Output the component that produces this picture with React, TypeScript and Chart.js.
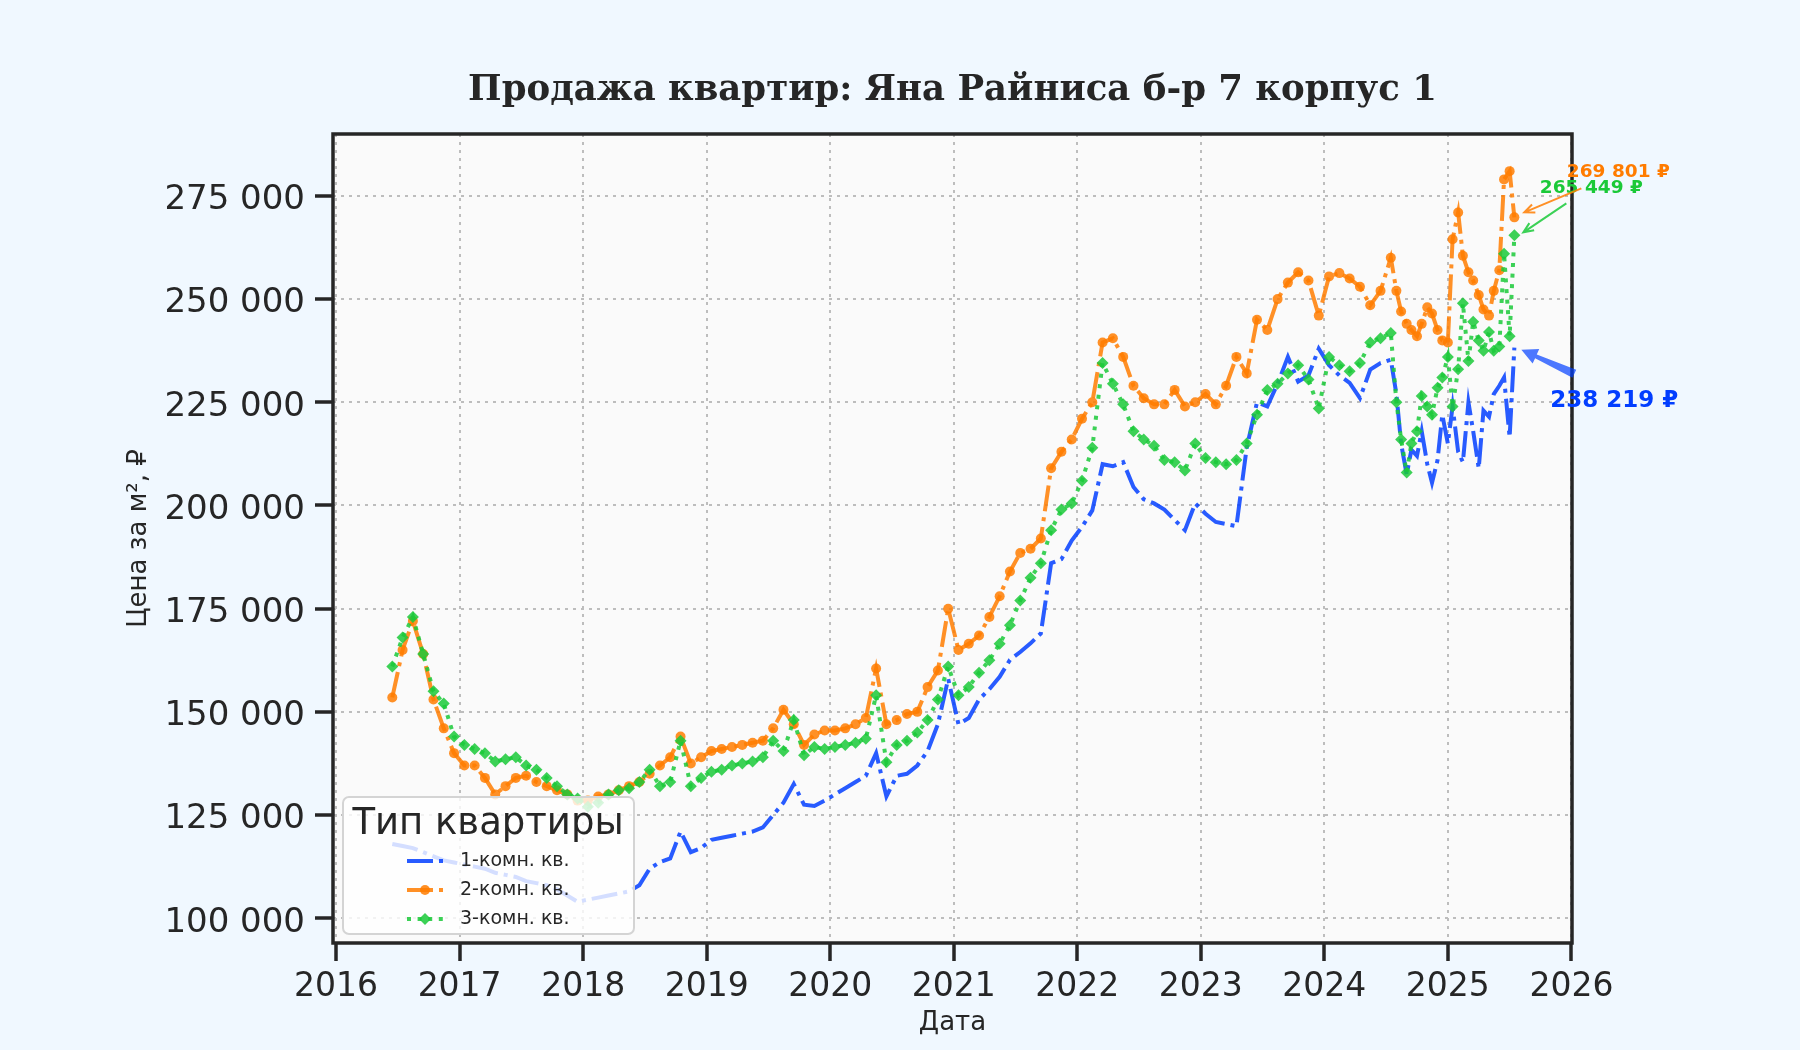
import { useEffect, useRef } from 'react';
import { Chart, registerables, Plugin } from 'chart.js';

Chart.register(...registerables);

// даты наблюдений: помесячно до июля 2024, дальше два раза в месяц
const dates = [
  '2016-06-15', '2016-07-15', '2016-08-15', '2016-09-15', '2016-10-15', '2016-11-15', '2016-12-15',
  '2017-01-15', '2017-02-15', '2017-03-15', '2017-04-15', '2017-05-15', '2017-06-15',
  '2017-07-15', '2017-08-15', '2017-09-15', '2017-10-15', '2017-11-15', '2017-12-15',
  '2018-01-15', '2018-02-15', '2018-03-15', '2018-04-15', '2018-05-15', '2018-06-15',
  '2018-07-15', '2018-08-15', '2018-09-15', '2018-10-15', '2018-11-15', '2018-12-15',
  '2019-01-15', '2019-02-15', '2019-03-15', '2019-04-15', '2019-05-15', '2019-06-15',
  '2019-07-15', '2019-08-15', '2019-09-15', '2019-10-15', '2019-11-15', '2019-12-15',
  '2020-01-15', '2020-02-15', '2020-03-15', '2020-04-15', '2020-05-15', '2020-06-15',
  '2020-07-15', '2020-08-15', '2020-09-15', '2020-10-15', '2020-11-15', '2020-12-15',
  '2021-01-15', '2021-02-15', '2021-03-15', '2021-04-15', '2021-05-15', '2021-06-15',
  '2021-07-15', '2021-08-15', '2021-09-15', '2021-10-15', '2021-11-15', '2021-12-15',
  '2022-01-15', '2022-02-15', '2022-03-15', '2022-04-15', '2022-05-15', '2022-06-15',
  '2022-07-15', '2022-08-15', '2022-09-15', '2022-10-15', '2022-11-15', '2022-12-15',
  '2023-01-15', '2023-02-15', '2023-03-15', '2023-04-15', '2023-05-15', '2023-06-15',
  '2023-07-15', '2023-08-15', '2023-09-15', '2023-10-15', '2023-11-15', '2023-12-15',
  '2024-01-15', '2024-02-15', '2024-03-15', '2024-04-15', '2024-05-15', '2024-06-15', '2024-07-15',
  '2024-08-01', '2024-08-15', '2024-09-01', '2024-09-15', '2024-10-01', '2024-10-15',
  '2024-11-01', '2024-11-15', '2024-12-01', '2024-12-15', '2025-01-01', '2025-01-15',
  '2025-02-01', '2025-02-15', '2025-03-01', '2025-03-15', '2025-04-01', '2025-04-15',
  '2025-05-01', '2025-05-15', '2025-06-01', '2025-06-15', '2025-07-01', '2025-07-15',
];

const rooms1 = [
  118000, 117500, 117000, 116000, 115000, 114000, 113500,
  113000, 112500, 112000, 111000, 110500, 110000, 109000, 108500, 108000, 107000, 105500, 104000,
  104500, 105000, 105500, 106000, 106500, 108000, 112000, 113600, 114500, 121000, 116000, 117000,
  119000, 119500, 120000, 120500, 121000, 122000, 125000, 128000, 132500, 127500, 127200, 128500,
  130000, 131500, 133000, 134500, 140000, 129500, 134500, 135000, 137000, 140500, 147000, 158000,
  147000, 148500, 153000, 155500, 158500, 162600, 164500, 166600, 169000, 186000, 187000, 191500,
  194800, 198800, 210000, 209500, 210500, 204500, 201500, 200500, 199000, 196500, 194000, 200500,
  198000, 196000, 195500, 195000, 214000, 225000, 224000, 229500, 236000, 230000, 231500, 238000,
  234000, 231500, 229700, 226000, 232900, 234500, 235300,
  227000, 215000, 207500, 213500, 212000, 218000, 210000, 205500, 211000, 222000, 215000, 224000,
  213000, 210500, 225000, 218000, 209000, 223000, 221500, 227000, 229000, 231000, 216500, 238219,
];

const rooms2 = [
  153500, 165000, 172000, 164000, 153000, 146000, 140000,
  137000, 137000, 134000, 130000, 132000, 134000, 134500, 133000, 132000, 131000, 130000, 128500,
  128500, 129500, 130000, 131000, 132000, 133000, 135000, 137000, 139000, 144000, 137500, 139000,
  140500, 141000, 141500, 142000, 142500, 143000, 146000, 150500, 147000, 142000, 144500, 145500,
  145500, 146000, 147000, 148500, 160500, 147000, 148000, 149500, 150000, 156000, 160000, 175000,
  165000, 166500, 168500, 173000, 178000, 184000, 188500, 189500, 192000, 209000, 213000, 216000,
  221000, 225000, 239500, 240500, 236000, 229000, 226000, 224500, 224500, 228000, 224000, 225000,
  227000, 224500, 229000, 236000, 232000, 245000, 242500, 250000, 254000, 256500, 254500, 246000,
  255500, 256300, 255000, 253000, 248500, 252000, 260000,
  252000, 247000, 244000, 242500, 241000, 244000, 248000, 246500, 242500, 240000, 239500, 264500,
  271000, 260500, 256500, 254500, 251000, 247500, 246000, 252000, 257000, 279000, 281000, 269801,
];

const rooms3 = [
  161000, 168000, 173000, 164000, 155000, 152000, 144000,
  142000, 141000, 140000, 138000, 138500, 139000, 137000, 136000, 134000, 132000, 130000, 129000,
  127000, 128000, 130000, 131000, 131500, 133000, 136000, 132000, 133000, 143000, 132000, 134000,
  135500, 136000, 137000, 137500, 138000, 139000, 143000, 140500, 148000, 139500, 141500, 141000,
  141500, 142000, 142500, 143500, 154000, 137800, 142000, 143000, 145000, 148000, 153000, 161000,
  154000, 156000, 159500, 162500, 166500, 171000, 177000, 182500, 186000, 194000, 199000, 200500,
  206000, 214000, 234500, 229500, 224500, 218000, 216000, 214500, 211000, 210500, 208500, 215000,
  211500, 210500, 210000, 211000, 215000, 222000, 228000, 229500, 232000, 234000, 230500, 223500,
  236000, 234000, 232500, 234500, 239500, 240500, 241800,
  225000, 216000, 208000, 215000, 218000, 226500, 224000, 222000, 228500, 231000, 236000, 224000,
  233000, 249000, 235000, 244500, 240000, 237500, 242000, 237500, 238500, 261000, 241000, 265449,
];

const seriesNames = ['1-комн. кв.', '2-комн. кв.', '3-комн. кв.'];
const xTicks = [2016, 2017, 2018, 2019, 2020, 2021, 2022, 2023, 2024, 2025, 2026];
const yTicks = [100000, 125000, 150000, 175000, 200000, 225000, 250000, 275000];

const TITLE = 'Продажа квартир: Яна Райниса б-р 7 корпус 1';
const LEGEND_TITLE = 'Тип квартиры';

const INK = '#262626';
const solid = ['#023eff', '#ff7c00', '#1ac938'];
const faded = ['rgba(2,62,255,0.85)', 'rgba(255,124,0,0.85)', 'rgba(26,201,56,0.85)'];
const DASHDOT = [26, 6, 4, 6];
const DOTTED = [4, 6.6];
const dashes = [DASHDOT, DASHDOT, DOTTED];

const toYear = (d: string) => {
  const [y, m, day] = d.split('-').map(Number);
  return y + (m - 1) / 12 + (day - 1) / 365;
};
const fmt = (v: number) => String(v).replace(/\B(?=(\d{3})+(?!\d))/g, ' ');
const points = (vals: number[]) => vals.map((v, i) => ({ x: toYear(dates[i]), y: v }));

function drawMarker(ctx: CanvasRenderingContext2D, i: number, x: number, y: number) {
  ctx.fillStyle = faded[i];
  ctx.beginPath();
  if (i === 1) {
    ctx.arc(x, y, 5, 0, Math.PI * 2);
  } else if (i === 2) {
    ctx.moveTo(x, y - 6);
    ctx.lineTo(x + 6, y);
    ctx.lineTo(x, y + 6);
    ctx.lineTo(x - 6, y);
    ctx.closePath();
  }
  ctx.fill();
}

function simpleArrow(ctx: CanvasRenderingContext2D, x0: number, y0: number, x1: number, y1: number, color: string) {
  const ang = Math.atan2(y1 - y0, x1 - x0);
  ctx.strokeStyle = color;
  ctx.lineWidth = 2;
  ctx.setLineDash([]);
  ctx.beginPath();
  ctx.moveTo(x0, y0);
  ctx.lineTo(x1, y1);
  ctx.moveTo(x1 - 11 * Math.cos(ang - 0.4), y1 - 11 * Math.sin(ang - 0.4));
  ctx.lineTo(x1, y1);
  ctx.lineTo(x1 - 11 * Math.cos(ang + 0.4), y1 - 11 * Math.sin(ang + 0.4));
  ctx.stroke();
}

function fancyArrow(ctx: CanvasRenderingContext2D, x0: number, y0: number, x1: number, y1: number, color: string) {
  const len = Math.hypot(x1 - x0, y1 - y0);
  const ux = (x1 - x0) / len, uy = (y1 - y0) / len;
  const nx = -uy, ny = ux;
  const hl = 16, hw = 8;
  const bx = x1 - ux * hl, by = y1 - uy * hl;
  ctx.fillStyle = color;
  ctx.beginPath();
  ctx.moveTo(x0 + nx * 4.5, y0 + ny * 4.5);
  ctx.lineTo(bx + nx * 2, by + ny * 2);
  ctx.lineTo(bx + nx * hw, by + ny * hw);
  ctx.lineTo(x1, y1);
  ctx.lineTo(bx - nx * hw, by - ny * hw);
  ctx.lineTo(bx - nx * 2, by - ny * 2);
  ctx.lineTo(x0 - nx * 4.5, y0 - ny * 4.5);
  ctx.closePath();
  ctx.fill();
}

const decor: Plugin<'line'> = {
  id: 'decor',
  beforeDraw(chart) {
    const { ctx, chartArea: a } = chart;
    ctx.save();
    ctx.fillStyle = '#f0f8ff';
    ctx.fillRect(0, 0, chart.width, chart.height);
    ctx.fillStyle = '#fafafa';
    ctx.fillRect(a.left, a.top, a.right - a.left, a.bottom - a.top);
    ctx.restore();
  },
  afterDatasetsDraw(chart) {
    const { ctx, chartArea: a } = chart;
    ctx.save();

    // рамка
    ctx.strokeStyle = INK;
    ctx.lineWidth = 3.5;
    ctx.strokeRect(a.left, a.top, a.right - a.left, a.bottom - a.top);

    // легенда
    const lx = a.left + 10;
    const ly = a.bottom - 146;
    ctx.beginPath();
    ctx.roundRect(lx, ly, 291, 137, 6);
    ctx.fillStyle = 'rgba(255,255,255,0.8)';
    ctx.fill();
    ctx.strokeStyle = '#d4d4d4';
    ctx.lineWidth = 2;
    ctx.stroke();
    ctx.fillStyle = INK;
    ctx.textAlign = 'center';
    ctx.textBaseline = 'alphabetic';
    ctx.font = '37px "DejaVu Sans"';
    ctx.fillText(LEGEND_TITLE, lx + 145, ly + 37);
    ctx.font = '19px "DejaVu Sans"';
    ctx.textAlign = 'left';
    ctx.textBaseline = 'middle';
    seriesNames.forEach((name, i) => {
      const y = ly + 64 + i * 29;
      ctx.strokeStyle = faded[i];
      ctx.lineWidth = 4;
      ctx.setLineDash(dashes[i]);
      ctx.beginPath();
      ctx.moveTo(lx + 64, y);
      ctx.lineTo(lx + 101, y);
      ctx.stroke();
      ctx.setLineDash([]);
      drawMarker(ctx, i, lx + 82, y);
      ctx.fillStyle = INK;
      ctx.fillText(name, lx + 117, y);
    });

    // подписи последних значений
    const last = [rooms1, rooms2, rooms3].map((s) => s[s.length - 1]);
    const spots = [
      { dx: 100, dy: 53, tail: [60, 26], tip: [7, 2], size: 23 },
      { dx: 104, dy: -45, tail: [67, -29], tip: [10, -5], size: 18.5 },
      { dx: 77, dy: -47, tail: [52, -32], tip: [9, -3], size: 18.5 },
    ];
    ctx.textAlign = 'center';
    ctx.textBaseline = 'middle';
    [0, 2, 1].forEach((i) => {
      const meta = chart.getDatasetMeta(i);
      const pt = meta.data[meta.data.length - 1];
      const s = spots[i];
      if (i === 0) {
        fancyArrow(ctx, pt.x + s.tail[0], pt.y + s.tail[1], pt.x + s.tip[0], pt.y + s.tip[1], 'rgba(2,62,255,0.7)');
      } else {
        simpleArrow(ctx, pt.x + s.tail[0], pt.y + s.tail[1], pt.x + s.tip[0], pt.y + s.tip[1], faded[i]);
      }
      ctx.font = `bold ${s.size}px "DejaVu Sans"`;
      ctx.fillStyle = solid[i];
      ctx.fillText(`${fmt(last[i])} ₽`, pt.x + s.dx, pt.y + s.dy);
    });
    ctx.restore();
  },
  afterDraw(chart) {
    const { ctx, chartArea: a } = chart;
    ctx.save();
    ctx.font = 'bold 35.5px "DejaVu Serif"';
    ctx.fillStyle = INK;
    ctx.textAlign = 'center';
    ctx.textBaseline = 'middle';
    ctx.fillText(TITLE, (a.left + a.right) / 2, 90.5);
    ctx.restore();
  },
};

const tickFont = { family: 'DejaVu Sans', size: 34, lineHeight: 1.2 };
const labelFont = { family: 'DejaVu Sans', size: 26, lineHeight: 1.2 };
const gridOpts = { color: '#bdbdbd', lineWidth: 2, tickLength: 18, tickWidth: 3.5, tickColor: INK };
const borderOpts = { display: false, dash: [3, 5] };

export default function App() {
  const canvasRef = useRef<HTMLCanvasElement>(null);
  const chartRef = useRef<Chart | null>(null);

  useEffect(() => {
    if (!canvasRef.current) return;
    if (chartRef.current) chartRef.current.destroy();

    chartRef.current = new Chart(canvasRef.current, {
      type: 'line',
      data: {
        datasets: [
          {
            label: seriesNames[0],
            data: points(rooms1),
            borderColor: faded[0],
            backgroundColor: faded[0],
            borderWidth: 4,
            borderDash: DASHDOT,
            pointRadius: 0,
            tension: 0,
            order: 3,
          },
          {
            label: seriesNames[1],
            data: points(rooms2),
            borderColor: faded[1],
            backgroundColor: faded[1],
            borderWidth: 4,
            borderDash: DASHDOT,
            pointStyle: 'circle',
            pointRadius: 5,
            pointBorderWidth: 0,
            tension: 0,
            order: 2,
          },
          {
            label: seriesNames[2],
            data: points(rooms3),
            borderColor: faded[2],
            backgroundColor: faded[2],
            borderWidth: 4,
            borderDash: DOTTED,
            pointStyle: 'rectRot',
            pointRadius: 6,
            pointBorderWidth: 0,
            tension: 0,
            order: 1,
          },
        ],
      },
      options: {
        responsive: false,
        animation: false,
        events: [],
        layout: { padding: { top: 134, right: 228, left: 0, bottom: 0 } },
        plugins: {
          legend: { display: false },
          title: { display: false },
          tooltip: { enabled: false },
        },
        scales: {
          x: {
            type: 'linear',
            min: 2015.975,
            max: 2026.005,
            afterBuildTicks: (axis) => {
              axis.ticks = xTicks.map((v) => ({ value: v }));
            },
            afterFit: (axis) => {
              axis.height = 107;
            },
            ticks: {
              callback: (v) => String(v),
              font: { family: 'DejaVu Sans', size: 33, lineHeight: 1.2 },
              color: INK,
              padding: 6.5,
              maxRotation: 0,
              autoSkip: false,
            },
            grid: gridOpts,
            border: borderOpts,
            title: { display: true, text: 'Дата', font: labelFont, color: INK, padding: { top: 0, bottom: 11.5 } },
          },
          y: {
            type: 'linear',
            min: 94000,
            max: 290000,
            afterBuildTicks: (axis) => {
              axis.ticks = yTicks.map((v) => ({ value: v }));
            },
            afterFit: (axis) => {
              axis.width = 333;
            },
            ticks: {
              callback: (v) => fmt(Number(v)),
              font: tickFont,
              color: INK,
              padding: 10,
              labelOffset: 4.5,
            },
            grid: gridOpts,
            border: borderOpts,
            title: { display: true, text: 'Цена за м², ₽', font: labelFont, color: INK, padding: { top: 124, bottom: 0 } },
          },
        },
      },
      plugins: [decor],
    });

    return () => {
      if (chartRef.current) {
        chartRef.current.destroy();
        chartRef.current = null;
      }
    };
  }, []);

  return (
    <div style={{ position: 'fixed', top: 0, left: 0, width: 1800, height: 1050, overflow: 'hidden', background: '#f0f8ff' }}>
      <canvas ref={canvasRef} width={1800} height={1050} style={{ display: 'block' }} />
    </div>
  );
}
